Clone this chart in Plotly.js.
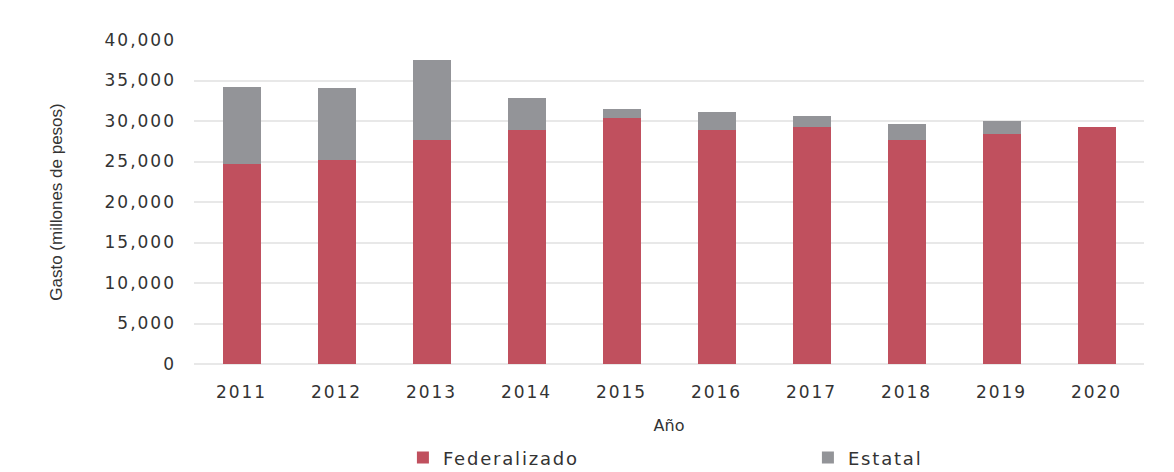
<!DOCTYPE html>
<html>
<head>
<meta charset="utf-8">
<script src="https://cdn.plot.ly/plotly-3.0.1.min.js"></script>
<style>
html,body{margin:0;padding:0;background:#fff;}
#chart{width:1174px;height:472px;}
#chart .xtick text, #chart .ytick text{letter-spacing:2px;}
#chart .legendtext{letter-spacing:1.8px;}
</style>
</head>
<body>
<div id="chart"></div>
<script>
const years = ["2011","2012","2013","2014","2015","2016","2017","2018","2019","2020"];
const federalizado = [24640, 25140, 27700, 28940, 30390, 28940, 29270, 27700, 28400, 29270];
const estatal = [9590, 8920, 9820, 3960, 1060, 2140, 1320, 1980, 1580, 0];
const yTicks = [0, 5000, 10000, 15000, 20000, 25000, 30000, 35000, 40000];
const yTickLabels = ["0", "5,000", "10,000", "15,000", "20,000", "25,000", "30,000", "35,000", "40,000"];

const tickFont = {family: "DejaVu Sans", size: 17, color: "#333"};
const data = [
  {type: "bar", name: "Federalizado", x: years, y: federalizado,
   marker: {color: "#c0505e"}, hoverinfo: "x+y"},
  {type: "bar", name: "Estatal", x: years, y: estatal,
   marker: {color: "#939498"}, hoverinfo: "x+y"}
];
const layout = {
  width: 1174, height: 472,
  margin: {l: 194, r: 30, t: 40, b: 108},
  paper_bgcolor: "#ffffff", plot_bgcolor: "#ffffff",
  barmode: "stack", bargap: 0.6,
  showlegend: true,
  xaxis: {
    type: "category", range: [-0.5, 9.5],
    tickfont: tickFont, ticks: "", showgrid: false, zeroline: false,
    showline: false, ticklabelstandoff: 16,
    title: {text: "Año", font: {family: "DejaVu Sans", size: 16, color: "#333"}, standoff: 18}
  },
  yaxis: {
    range: [0, 40000], tickvals: yTicks, ticktext: yTickLabels,
    tickfont: tickFont, ticks: "", showgrid: true, gridcolor: "#e8e8e8", gridwidth: 2,
    zeroline: true, zerolinecolor: "#e8e8e8", zerolinewidth: 2, showline: false,
    ticklabelstandoff: 17,
    title: {text: "Gasto (millones de pesos)", font: {family: "Liberation Sans Narrow, Liberation Sans", size: 17, color: "#333"}, standoff: 49}
  },
  legend: {
    orientation: "h", xref: "container", x: 0.3432, xanchor: "left",
    yref: "container", y: 0.03, yanchor: "middle",
    font: {family: "DejaVu Sans", size: 18, color: "#333"},
    entrywidth: 360, entrywidthmode: "pixels", traceorder: "normal"
  }
};
Plotly.newPlot("chart", data, layout, {displayModeBar: false, staticPlot: true});
</script>
</body>
</html>
